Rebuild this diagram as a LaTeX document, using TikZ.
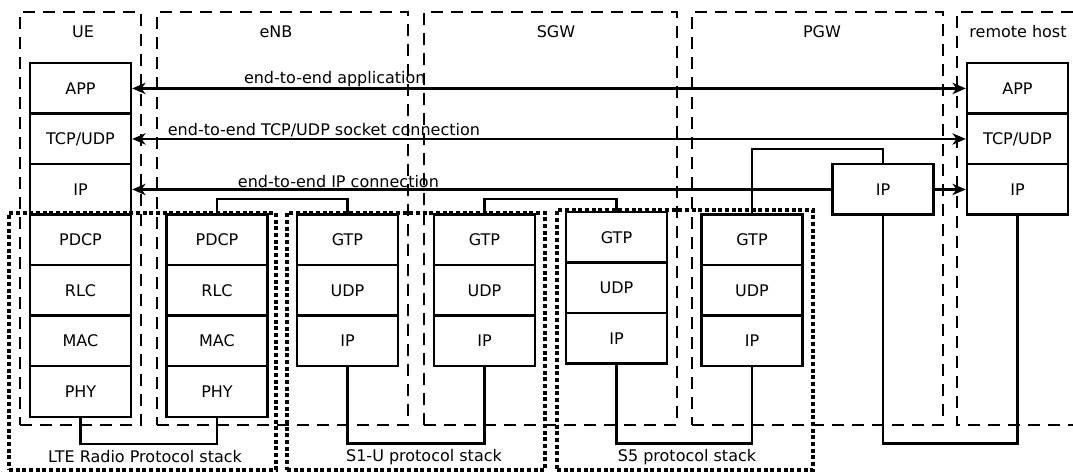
\documentclass[tikz,border=0pt]{standalone}
\usepackage{fontspec}
\setmainfont{DejaVu Sans}
\usetikzlibrary{arrows.meta,fit,calc}
\begin{document}
\begin{tikzpicture}[x=0.75pt,y=-0.75pt,
  every node/.style={font=\fontsize{12}{14}\selectfont},
  layer/.style={draw, line width=1.8pt, fill=white, minimum width=75.75pt, minimum height=37.875pt, inner sep=0pt, anchor=north},
  region/.style={draw, line width=1.7pt, dash pattern=on 9pt off 6pt, inner sep=0pt},
  group/.style={draw, line width=3.6pt, dash pattern=on 3pt off 2pt, inner sep=0pt},
  conn/.style={draw, line width=1.7pt},
  tip/.style={arrows={-Stealth[length=10pt,width=8.5pt,inset=3pt]}},
  bitip/.style={arrows={Stealth[length=10pt,width=8.5pt,inset=3pt]-Stealth[length=10pt,width=8.5pt,inset=3pt]}},
  lbl/.style={above, inner sep=0.5pt}]
\useasboundingbox (0,0) rectangle (1073,473);
% regions
\node[region, fit={(20,12) (141,425)}] (rue) {};
\node[region, fit={(157,12) (408,425)}] (renb) {};
\node[region, fit={(424,12) (677,425)}] (rsgw) {};
\node[region, fit={(692,12) (943,425)}] (rpgw) {};
\draw[region] (1073,12) -| (957,425) -- (1073,425);
\node (tue) at (83,32) {UE};
\node (tenb) at (276,32) {eNB};
\node (tsgw) at (556,32) {SGW};
\node (tpgw) at (822,32) {PGW};
\node (thost) at (1018,32) {remote host};
% UE stack
\node[layer] (ueapp) at (80.5,62) {APP};
\node[layer] (uetcp) at (80.5,112.5) {TCP/UDP};
\node[layer] (ueip) at (80.5,163) {IP};
\node[layer] (uepdcp) at (80.5,213.5) {PDCP};
\node[layer] (uerlc) at (80.5,264) {RLC};
\node[layer] (uemac) at (80.5,314.5) {MAC};
\node[layer] (uephy) at (80.5,365) {PHY};
% eNB radio stack
\node[layer] (epdcp) at (217,213.5) {PDCP};
\node[layer] (erlc) at (217,264) {RLC};
\node[layer] (emac) at (217,314.5) {MAC};
\node[layer] (ephy) at (217,365) {PHY};
% eNB S1-U stack
\node[layer] (egtp) at (347.5,213.5) {GTP};
\node[layer] (eudp) at (347.5,264) {UDP};
\node[layer] (eip) at (347.5,314.5) {IP};
% SGW S1-U stack
\node[layer] (sagtp) at (484.5,213.5) {GTP};
\node[layer] (saudp) at (484.5,264) {UDP};
\node[layer] (saip) at (484.5,314.5) {IP};
% SGW S5 stack
\node[layer] (sbgtp) at (616.5,211) {GTP};
\node[layer] (sbudp) at (616.5,261.5) {UDP};
\node[layer] (sbip) at (616.5,312) {IP};
% PGW stack
\node[layer] (pgtp) at (752,213.5) {GTP};
\node[layer] (pudp) at (752,264) {UDP};
\node[layer] (pip) at (752,314.5) {IP};
\node[layer] (pipx) at (883,163) {IP};
% remote host stack
\node[layer] (rapp) at (1017.5,62) {APP};
\node[layer] (rtcp) at (1017.5,112.5) {TCP/UDP};
\node[layer] (rip) at (1017.5,163) {IP};
% connectors
\draw[conn] (uephy.south) -- ++(0,26) -| (ephy.south);
\draw[conn] (epdcp.north) -- ++(0,-14.5) -| (egtp.north);
\draw[conn] (eip.south) -- ++(0,76) -| (saip.south);
\draw[conn] (sagtp.north) -- ++(0,-14.5) -| (sbgtp.north);
\draw[conn] (sbip.south) -- ++(0,78.5) -| (pip.south);
\draw[conn] (pgtp.north) -- ++(0,-64.5) -| (pipx.north);
\draw[conn] (pipx.south) -- ++(0,227.5) -| (rip.south);
% end-to-end arrows
\draw[conn, bitip] (ueapp.east) -- node[lbl, pos=0.243] (lapp) {end-to-end application} (rapp.west);
\draw[conn, bitip] (uetcp.east) -- node[lbl, pos=0.23] (ltcp) {end-to-end TCP/UDP socket connection} (rtcp.west);
\draw[conn, tip] (pipx.west) -- node[lbl, pos=0.705] (lip) {end-to-end IP connection} (ueip.east);
\draw[conn, tip] (pipx.east) -- (rip.west);
% protocol groups
\node[group, fit={(9,213) (276,470)}] (glte) {};
\node[group, fit={(287,213) (545,470)}] (gs1) {};
\node[group, fit={(557,210) (813,470)}] (gs5) {};
\node (llte) at (145,457) {LTE Radio Protocol stack};
\node (ls1) at (424,457) {S1-U protocol stack};
\node (ls5) at (687,457) {S5 protocol stack};
\end{tikzpicture}
\end{document}
